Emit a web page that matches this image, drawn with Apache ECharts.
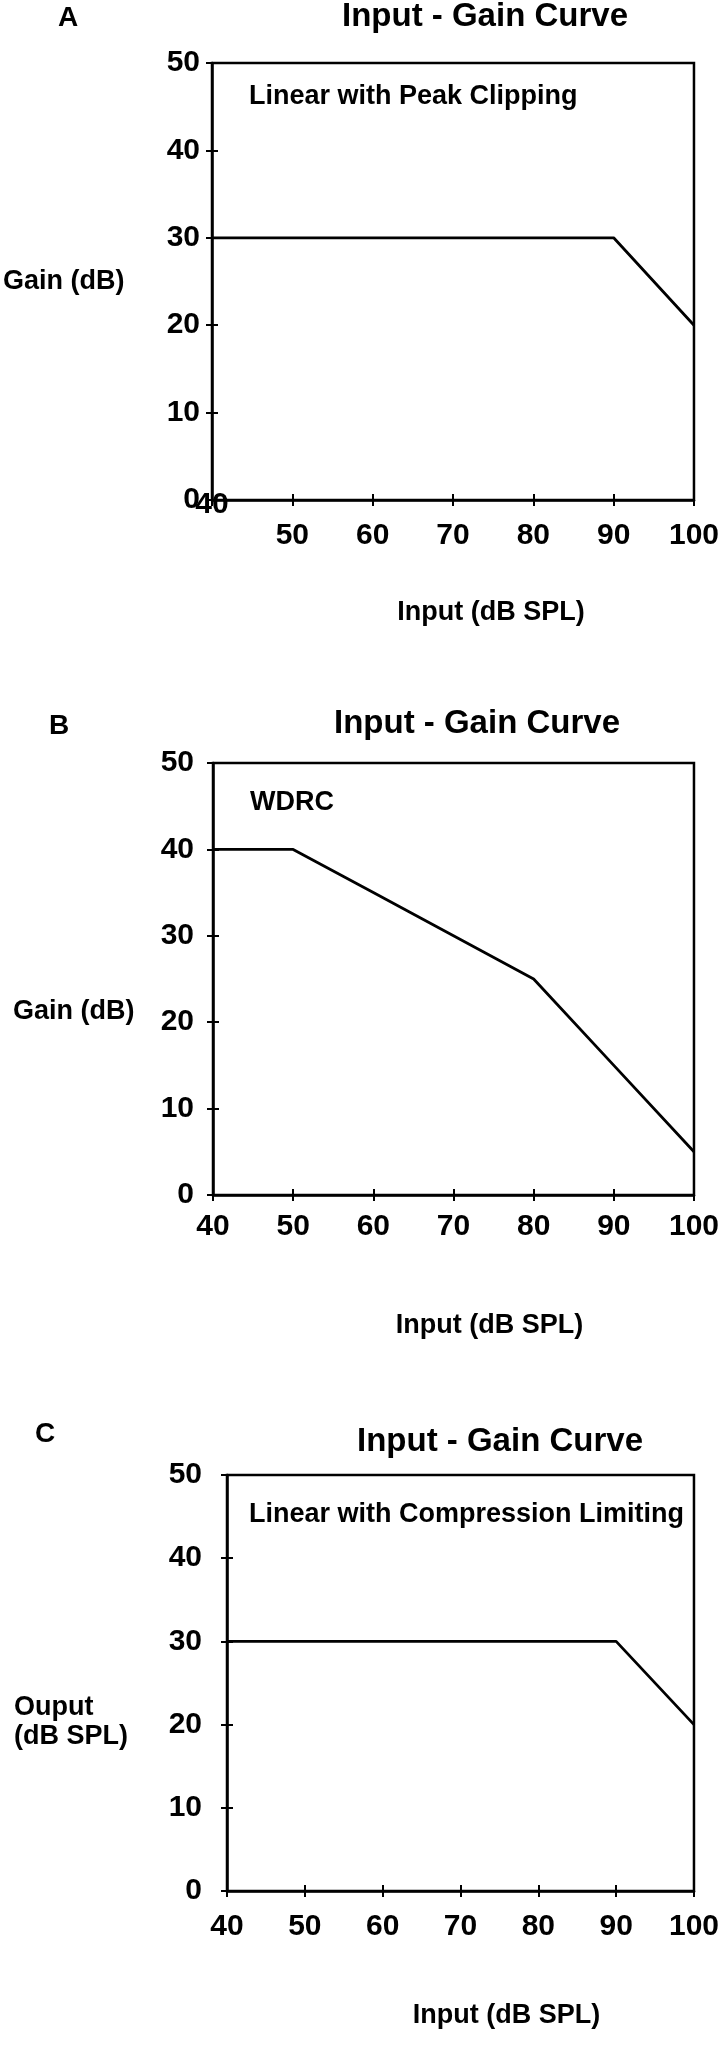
<!DOCTYPE html>
<html>
<head>
<meta charset="utf-8">
<script src="https://cdn.jsdelivr.net/npm/echarts@6/dist/echarts.min.js"></script>
<style>
html,body{margin:0;padding:0;background:#fff;}
#chart{width:722px;height:2046px;}
</style>
</head>
<body>
<div id="chart"></div>
<script>
// ---- data ----
const panelLetters = ['A', 'B', 'C'];
const panelTitles = ['Input - Gain Curve', 'Input - Gain Curve', 'Input - Gain Curve'];
const panelSubtitles = ['Linear with Peak Clipping', 'WDRC', 'Linear with Compression Limiting'];
const xAxisNames = ['Input (dB SPL)', 'Input (dB SPL)', 'Input (dB SPL)'];
const yAxisNames = ['Gain (dB)', 'Gain (dB)', 'Ouput\n(dB SPL)'];
const xTickValues = [40, 50, 60, 70, 80, 90, 100];
const yTickValues = [0, 10, 20, 30, 40, 50];

const inputA = [40, 90, 100];
const gainA = [30, 30, 20];
const inputB = [40, 50, 60, 70, 80, 90, 100];
const gainB = [40, 40, 35, 30, 25, 15, 5];
const inputC = [40, 90, 100];
const outputC = [30, 30, 20];

// ---- layout ----
const FONT = "'Liberation Sans', Arial, Helvetica, sans-serif";
const grids = [
  {left: 212, right: 26, top: 63, height: 437},
  {left: 213, right: 26, top: 763, height: 432},
  {left: 227, right: 27, top: 1475, height: 416}
];
const yLabelMargin = [12, 19, 25];
const xLabelMargin = [21, 17, 21];
const xNameGap = [99, 117, 111];
const xNameShift = [76, 72, 92];
const yNameGap = [209, 200, 213];
const yNameVAlign = ['middle', 'top', 'top'];
const yNameLineHeight = [30, 66, 29];
const yNamePadTop = [0, 0, 10];
const letterPos = [[68, 18], [59, 726], [45, 1434]];
const titlePos = [[485, 17], [477, 724], [500, 1442]];
const subPos = [[249, 97], [250, 803], [249, 1515]];

const seriesData = [
  inputA.map((x, i) => [x, gainA[i]]),
  inputB.map((x, i) => [x, gainB[i]]),
  inputC.map((x, i) => [x, outputC[i]])
];

const xMin = xTickValues[0], xMax = xTickValues[xTickValues.length - 1];
const yMin = yTickValues[0], yMax = yTickValues[yTickValues.length - 1];
const xInt = xTickValues[1] - xTickValues[0];
const yInt = yTickValues[1] - yTickValues[0];

const black = '#000';
const labelStyle = {color: black, fontFamily: FONT, fontWeight: 'bold', fontSize: 30};

const xAxes = [], yAxes = [], series = [], graphics = [];
for (let i = 0; i < 3; i++) {
  // main x axis
  xAxes.push({
    gridIndex: i, type: 'value', min: xMin, max: xMax, interval: xInt,
    axisLine: {show: true, lineStyle: {color: black, width: 2.5}},
    axisTick: {show: true, inside: false, length: 6, lineStyle: {color: black, width: 2}},
    splitLine: {show: false},
    axisLabel: Object.assign({
      margin: xLabelMargin[i], showMinLabel: true, showMaxLabel: true,
      formatter: (v) => (i === 0 && v === xMin) ? '' : String(v)
    }, labelStyle),
    name: xAxisNames[i], nameLocation: 'middle', nameGap: xNameGap[i],
    nameTextStyle: {color: black, fontFamily: FONT, fontWeight: 'bold', fontSize: 27,
      padding: [0, 0, 0, xNameShift[i]]}
  });
  // overlay x axis: inner half of ticks (panel A also carries its misplaced "40")
  xAxes.push({
    gridIndex: i, type: 'value', min: xMin, max: xMax, interval: xInt, position: 'bottom',
    axisLine: {show: false},
    axisTick: {show: true, inside: true, length: 6, lineStyle: {color: black, width: 2}},
    splitLine: {show: false},
    axisLabel: Object.assign({
      show: i === 0, margin: -10, showMinLabel: true,
      formatter: (v) => v === xMin ? String(v) : ''
    }, labelStyle)
  });
  yAxes.push({
    gridIndex: i, type: 'value', min: yMin, max: yMax, interval: yInt,
    axisLine: {show: true, lineStyle: {color: black, width: 2.5}},
    axisTick: {show: true, inside: false, length: 6, lineStyle: {color: black, width: 2}},
    splitLine: {show: false},
    axisLabel: Object.assign({margin: yLabelMargin[i], showMinLabel: true, showMaxLabel: true}, labelStyle),
    name: yAxisNames[i], nameLocation: 'middle', nameRotate: 0, nameGap: yNameGap[i],
    nameTextStyle: {color: black, fontFamily: FONT, fontWeight: 'bold', fontSize: 27,
      align: 'left', verticalAlign: yNameVAlign[i], lineHeight: yNameLineHeight[i],
      padding: [yNamePadTop[i], 0, 0, 0]}
  });
  yAxes.push({
    gridIndex: i, type: 'value', min: yMin, max: yMax, interval: yInt, position: 'left',
    axisLine: {show: false},
    axisTick: {show: true, inside: true, length: 6, lineStyle: {color: black, width: 2}},
    splitLine: {show: false},
    axisLabel: {show: false}
  });
  series.push({
    type: 'line', xAxisIndex: i * 2, yAxisIndex: i * 2,
    data: seriesData[i], symbol: 'none', smooth: false,
    lineStyle: {color: black, width: 2.8}, z: 5
  });
  graphics.push({
    type: 'text', x: letterPos[i][0], y: letterPos[i][1],
    style: {text: panelLetters[i], fill: black, font: 'bold 28px ' + FONT, textAlign: 'center', textVerticalAlign: 'middle'}
  });
  graphics.push({
    type: 'text', x: titlePos[i][0], y: titlePos[i][1],
    style: {text: panelTitles[i], fill: black, font: 'bold 33px ' + FONT, textAlign: 'center', textVerticalAlign: 'middle'}
  });
  graphics.push({
    type: 'text', x: subPos[i][0], y: subPos[i][1],
    style: {text: panelSubtitles[i], fill: black, font: 'bold 27px ' + FONT, textAlign: 'left', textVerticalAlign: 'middle'}
  });
}

const chart = echarts.init(document.getElementById('chart'), null, {renderer: 'canvas'});
chart.setOption({
  backgroundColor: '#fff',
  animation: false,
  grid: grids.map(g => Object.assign({show: true, borderColor: black, borderWidth: 2.5, backgroundColor: 'transparent', containLabel: false}, g)),
  xAxis: xAxes,
  yAxis: yAxes,
  series: series,
  graphic: graphics
});
</script>
</body>
</html>
